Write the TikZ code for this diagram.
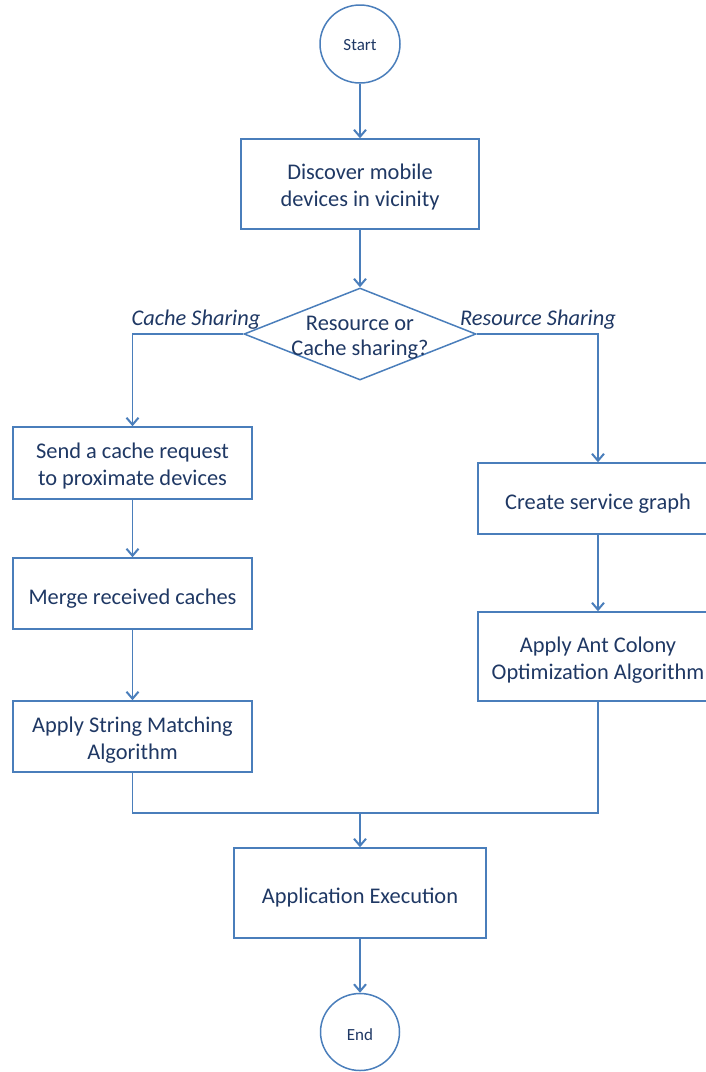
\documentclass[tikz,border=0pt]{standalone}
\usepackage{fontspec}
\setmainfont{Carlito}
\usetikzlibrary{arrows.meta,shapes.geometric}
\definecolor{lineblue}{HTML}{4A7EBB}
\definecolor{txtblue}{HTML}{1F3864}
\tikzset{
  every node/.style={text=txtblue},
  stepbox/.style={draw=lineblue, line width=1.5pt, rectangle, inner sep=0pt},
  boxtext/.style={align=center, inner sep=0pt, font=\fontsize{22.4}{27}\selectfont},
  terminal/.style={draw=lineblue, line width=1.5pt, ellipse, inner sep=0pt},
  termtext/.style={inner sep=0pt, font=\fontsize{17}{20}\selectfont},
  conn/.style={draw=lineblue, line width=1.8pt},
  arr/.style={conn, -{Straight Barb[length=7pt,width=12pt,line width=2pt]}},
  branchlabel/.style={font=\fontsize{22.4}{26}\selectfont\itshape},
}
\begin{document}
\begin{tikzpicture}[x=1pt,y=-1pt]
\useasboundingbox (0,0) rectangle (706,1072);
\node[terminal, minimum width=80pt, minimum height=78pt] (start) at (360,44) {};
\node[termtext] (starttext) at (360,45) {Start};
\node[stepbox, minimum width=238pt, minimum height=90pt] (discover) at (360,184) {};
\node[boxtext] (discovertext) at (360,187.5) {Discover mobile\\devices in vicinity};
\node[diamond, draw=lineblue, line width=1.5pt, minimum width=232pt, minimum height=92pt, inner sep=0pt] (dec) at (360,334) {};
\node[align=center, font=\fontsize{22.4}{25}\selectfont] (dectext) at (360,338) {Resource or\\Cache sharing?};
\node[branchlabel] (lcache) at (196,320) {Cache Sharing};
\node[branchlabel] (lres) at (538,320) {Resource Sharing};
\node[stepbox, minimum width=239pt, minimum height=72pt] (send) at (132.5,463) {};
\node[boxtext] (sendtext) at (132.5,466.5) {Send a cache request\\to proximate devices};
\node[stepbox, minimum width=239pt, minimum height=71pt] (merge) at (132.5,593.5) {};
\node[boxtext] (mergetext) at (132.5,598.5) {Merge received caches};
\node[stepbox, minimum width=239pt, minimum height=71pt] (string) at (132.5,736.5) {};
\node[boxtext] (stringtext) at (132.5,740) {Apply String Matching\\Algorithm};
\node[stepbox, minimum width=240pt, minimum height=71pt] (create) at (598,498.5) {};
\node[boxtext] (createtext) at (598,503.5) {Create service graph};
\node[stepbox, minimum width=240pt, minimum height=89pt] (ant) at (598,656.5) {};
\node[boxtext] (anttext) at (598,660) {Apply Ant Colony\\Optimization Algorithm};
\node[stepbox, minimum width=252pt, minimum height=90pt] (app) at (360,893) {};
\node[boxtext] (apptext) at (360,898) {Application Execution};
\node[terminal, minimum width=79pt, minimum height=77pt] (end) at (360,1032) {};
\node[termtext] (endtext) at (360,1035) {End};
\coordinate (j) at (360,813);
\draw[arr] (start.south) -- (discover.north);
\draw[arr] (discover.south) -- (dec.north);
\draw[arr] (dec.west) -| (send.north);
\draw[arr] (dec.east) -| (create.north);
\draw[arr] (send.south) -- (merge.north);
\draw[arr] (merge.south) -- (string.north);
\draw[arr] (create.south) -- (ant.north);
\draw[conn] (string.south) -- (string.south |- j) -- (ant.south |- j) -- (ant.south);
\draw[arr] (j) -- (app.north);
\draw[arr] (app.south) -- (end.north);
\end{tikzpicture}
\end{document}
